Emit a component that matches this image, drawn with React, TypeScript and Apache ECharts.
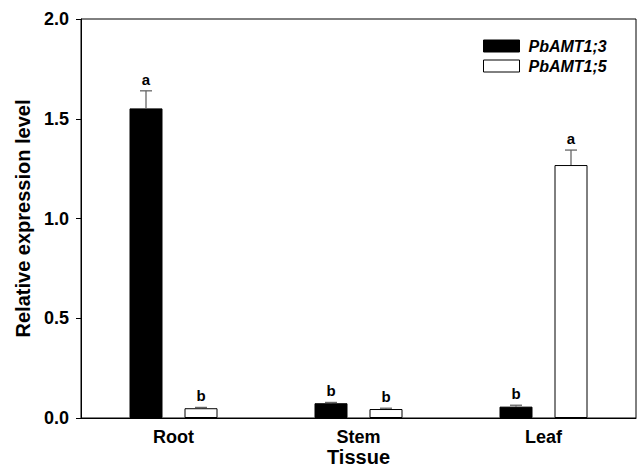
import React, { useEffect, useRef } from "react";
import * as echarts from "echarts";

// Tissue categories and expression means (± SE) for the two transporter genes
const categories = ["Root", "Stem", "Leaf"];
const amt13 = [1.552, 0.074, 0.057];
const amt13Err = [0.088, 0.004, 0.007];
const amt13Letters = ["a", "b", "b"];
const amt15 = [0.049, 0.045, 1.268];
const amt15Err = [0.004, 0.004, 0.075];
const amt15Letters = ["b", "b", "a"];
const yTicks = [0, 0.5, 1.0, 1.5, 2.0];

const FONT = "'Liberation Sans', Arial, Helvetica, sans-serif";
const BAR_W = 33;
const BAR_GAP = 22;
const OFFSET = (BAR_W + BAR_GAP) / 2;

export default function App() {
  const ref = useRef<HTMLDivElement>(null);

  useEffect(() => {
    if (!ref.current) return;
    const chart = echarts.init(ref.current, undefined, { renderer: "svg" });

    const errData: any[] = [];
    categories.forEach((_, i) => {
      errData.push([i, amt13[i], amt13Err[i], -OFFSET, amt13Letters[i]]);
      errData.push([i, amt15[i], amt15Err[i], OFFSET, amt15Letters[i]]);
    });

    chart.setOption({
      animation: false,
      backgroundColor: "#ffffff",
      grid: {
        left: 81,
        right: 4,
        top: 19,
        bottom: 49,
        outerBoundsMode: "none",
        containLabel: false,
        show: true,
        borderColor: "#000",
        borderWidth: 1,
        backgroundColor: "transparent",
      },
      legend: {
        data: [
          { name: "PbAMT1;3", itemStyle: { color: "#000", borderColor: "#000", borderWidth: 1 } },
          { name: "PbAMT1;5", itemStyle: { color: "#fff", borderColor: "#000", borderWidth: 1 } },
        ],
        orient: "vertical",
        left: 483,
        top: 38,
        padding: 0,
        icon: "rect",
        itemWidth: 36,
        itemHeight: 12,
        itemGap: 4,
        textStyle: {
          fontFamily: FONT,
          fontSize: 16,
          fontWeight: "bold",
          fontStyle: "italic",
          color: "#000",
          padding: [0, 0, 0, 4],
        },
      },
      xAxis: {
        type: "category",
        data: categories,
        name: "Tissue",
        nameLocation: "middle",
        nameGap: 29,
        nameMoveOverlap: false,
        nameTextStyle: { fontFamily: FONT, fontSize: 20, fontWeight: "bold", color: "#000", lineHeight: 19 },
        axisLine: { lineStyle: { color: "#000", width: 1 } },
        axisTick: { alignWithLabel: true, length: 4, lineStyle: { color: "#000" } },
        axisLabel: {
          fontFamily: FONT,
          fontSize: 18,
          fontWeight: "bold",
          color: "#000",
          margin: 10,
          lineHeight: 18,
        },
      },
      yAxis: {
        type: "value",
        min: 0,
        max: 2,
        interval: 0.5,
        name: "Relative expression level",
        nameLocation: "middle",
        nameGap: 48,
        nameMoveOverlap: false,
        nameTextStyle: { fontFamily: FONT, fontSize: 20, fontWeight: "bold", color: "#000" },
        axisLine: { show: true, lineStyle: { color: "#000", width: 1 } },
        axisTick: { show: true, length: 5, lineStyle: { color: "#000" } },
        splitLine: { show: false },
        axisLabel: {
          fontFamily: FONT,
          fontSize: 18,
          fontWeight: "bold",
          color: "#000",
          margin: 12,
          formatter: (v: number) => (yTicks.includes(v) ? v.toFixed(1) : ""),
        },
      },
      series: [
        {
          name: "PbAMT1;3",
          type: "bar",
          data: amt13,
          barWidth: BAR_W,
          barGap: `${(BAR_GAP / BAR_W) * 100}%`,
          itemStyle: { color: "#000", borderColor: "#000", borderWidth: 1 },
        },
        {
          name: "PbAMT1;5",
          type: "bar",
          data: amt15,
          barWidth: BAR_W,
          itemStyle: { color: "#fff", borderColor: "#000", borderWidth: 1 },
        },
        {
          name: "errors",
          type: "custom",
          z: 5,
          data: errData,
          renderItem: (params: any, api: any) => {
            const i = api.value(0);
            const v = api.value(1);
            const e = api.value(2);
            const off = api.value(3);
            const letter = errData[params.dataIndex][4];
            const base = api.coord([i, v]);
            const top = api.coord([i, v + e]);
            const cx = base[0] + off;
            const stroke = { stroke: "#666", lineWidth: 1.3 };
            return {
              type: "group",
              children: [
                { type: "line", shape: { x1: cx, y1: base[1], x2: cx, y2: top[1] }, style: stroke },
                { type: "line", shape: { x1: cx - 6, y1: top[1], x2: cx + 6, y2: top[1] }, style: stroke },
                {
                  type: "text",
                  x: cx,
                  y: top[1] - 4,
                  style: {
                    text: letter,
                    fontFamily: FONT,
                    fontSize: 15,
                    fontWeight: "bold",
                    fill: "#000",
                    align: "center",
                    verticalAlign: "bottom",
                  },
                },
              ],
            };
          },
        },
      ],
    });

    return () => chart.dispose();
  }, []);

  return (
    <div
      ref={ref}
      style={{ position: "fixed", left: 0, top: 0, width: 640, height: 467 }}
    />
  );
}
